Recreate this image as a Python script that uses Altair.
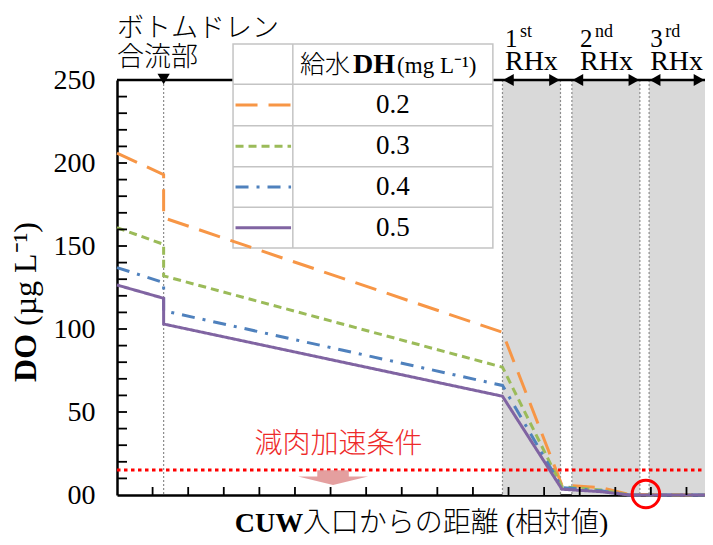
import altair as alt
import pandas as pd

# ---------------- data ----------------
series = ["0.2", "0.3", "0.4", "0.5"]
x_pts = [0, 1.31, 1.31, 10.83, 12.5, 13.6, 14.4, 16.52]
do_02 = [206, 193, 167, 98, 6, 4.5, 0.3, 0]
do_03 = [161, 151, 132, 77, 5, 3, 0, 0]
do_04 = [137, 128, 111, 66, 4.5, 2.5, 0, 0]
do_05 = [126.5, 118.5, 103, 59.5, 3.5, 2, 0, 0]
colors = ["#f79646", "#9bbb59", "#4f81bd", "#8064a2"]
dashes = [[22, 11], [8, 5], [13, 8, 3, 8], [1, 0]]

band_start = [10.83, 12.78, 14.95]
band_end = [12.46, 14.69, 16.52]
band_num = ["1", "2", "3"]
band_sup = ["st", "nd", "rd"]

drain_x = 1.31
threshold = 15
x_ticks = list(range(1, 17))
y_ticks = list(range(10, 250, 10))
y_labels = [0, 50, 100, 150, 200, 250]

XMAX = 16.52
SERIF = "Liberation Serif, Noto Sans CJK JP"
JP = "Noto Sans CJK JP"

# ---------------- scales / axes ----------------
XS = alt.Scale(domain=[0, XMAX], nice=False, zero=False)
YS = alt.Scale(domain=[0, 250], nice=False, zero=False)
x_axis = alt.Axis(labels=False, ticks=False, grid=False, domain=True,
                  domainColor="black", domainWidth=2.5, title=None)
y_axis = alt.Axis(values=y_labels, labelExpr="datum.value == 0 ? '00' : datum.label",
                  ticks=False, grid=False, domain=True, domainColor="black",
                  domainWidth=2.5, labelFont="Liberation Serif", labelFontSize=28,
                  labelColor="black", labelPadding=22, title=None)


def X(f):
    return alt.X(f, type="quantitative", scale=XS, axis=x_axis)


def Y(f):
    return alt.Y(f, type="quantitative", scale=YS, axis=y_axis)


# ---------------- tables ----------------
rows = []
for s, vals in zip(series, [do_02, do_03, do_04, do_05]):
    for i, (xv, yv) in enumerate(zip(x_pts, vals)):
        rows.append({"s": s, "x": xv, "y": yv, "i": i})
lines_df = pd.DataFrame(rows)

bands_df = pd.DataFrame({"x": band_start, "x2": band_end})
border_df = pd.DataFrame({"x": band_start + band_end[:2]})

color_enc = alt.Color("s:N", scale=alt.Scale(domain=series, range=colors), legend=None)
dash_enc = alt.StrokeDash("s:N", scale=alt.Scale(domain=series, range=dashes), legend=None)

layers = []

# grey bands
layers.append(alt.Chart(bands_df).mark_rect(color="#d9d9d9").encode(
    x=X("x"), x2="x2", y=alt.value(0), y2=alt.value(415)))
# band borders
layers.append(alt.Chart(border_df).mark_rule(color="#8c8c8c", strokeDash=[2, 2], strokeWidth=1.2).encode(
    x=X("x"), y=alt.value(0), y2=alt.value(415)))
# bottom drain line
layers.append(alt.Chart(pd.DataFrame({"x": [drain_x]})).mark_rule(
    color="#8c8c8c", strokeDash=[2, 2], strokeWidth=1.2).encode(
    x=X("x"), y=alt.value(0), y2=alt.value(415)))
# red threshold
layers.append(alt.Chart(pd.DataFrame({"y": [threshold], "x": [0], "x2": [XMAX]})).mark_rule(
    color="#ff0000", strokeDash=[3.5, 3.5], strokeWidth=3).encode(
    x=X("x"), x2="x2", y=Y("y")))
# top border line
layers.append(alt.Chart(pd.DataFrame({"y": [250], "x": [0], "x2": [XMAX]})).mark_rule(
    color="black", strokeWidth=2.5).encode(x=X("x"), x2="x2", y=Y("y")))

# legend table
tx0, tx1, tcol = 3.26, 10.56, 4.94
ty = [271.7, 247.4, 222.5, 197.8, 173.3, 148.8]
layers.append(alt.Chart(pd.DataFrame({"x": [tx0], "x2": [tx1], "y": [ty[-1]], "y2": [ty[0]]})).mark_rect(
    fill="white", stroke="#c4c4c4", strokeWidth=1.5).encode(x=X("x"), x2="x2", y=Y("y"), y2="y2"))
layers.append(alt.Chart(pd.DataFrame({"y": ty[1:-1], "x": [tx0] * 4, "x2": [tx1] * 4})).mark_rule(
    color="#c4c4c4", strokeWidth=1.5).encode(x=X("x"), x2="x2", y=Y("y")))
layers.append(alt.Chart(pd.DataFrame({"x": [tcol], "y": [ty[-1]], "y2": [ty[0]]})).mark_rule(
    color="#c4c4c4", strokeWidth=1.5).encode(x=X("x"), y=Y("y"), y2="y2"))
row_c = [(ty[k] + ty[k + 1]) / 2 for k in range(1, 5)]
leg_rows = []
for s, yc in zip(series, row_c):
    leg_rows.append({"s": s, "x": 3.33, "y": yc, "i": 0})
    leg_rows.append({"s": s, "x": 4.89, "y": yc, "i": 1})
layers.append(alt.Chart(pd.DataFrame(leg_rows)).mark_line(strokeWidth=3).encode(
    x=X("x"), y=Y("y"), color=color_enc, strokeDash=dash_enc, order="i:Q"))
layers.append(alt.Chart(pd.DataFrame({"x": [7.75] * 4, "y": row_c, "t": series})).mark_text(
    font="Liberation Serif", fontSize=27, color="black", align="center", baseline="middle").encode(
    x=X("x"), y=Y("y"), text="t:N"))
layers.append(alt.Chart(pd.DataFrame({"x": [5.14], "y": [254.2], "t": ["給水"]})).mark_text(
    font=JP, fontSize=25, fontWeight=300, color="black", align="left", baseline="alphabetic").encode(
    x=X("x"), y=Y("y"), text="t:N"))
layers.append(alt.Chart(pd.DataFrame({"x": [6.63], "y": [254.2], "t": ["DH"]})).mark_text(
    font="Liberation Serif", fontSize=28, fontWeight="bold", color="black", align="left",
    baseline="alphabetic").encode(x=X("x"), y=Y("y"), text="t:N"))
layers.append(alt.Chart(pd.DataFrame({"x": [7.87], "y": [254.2], "t": ["(mg L⁻¹)"]})).mark_text(
    font="Liberation Serif", fontSize=23, color="black", align="left", baseline="alphabetic").encode(
    x=X("x"), y=Y("y"), text="t:N"))

# data lines
layers.append(alt.Chart(lines_df).mark_line(strokeWidth=3).encode(
    x=X("x"), y=Y("y"), color=color_enc, strokeDash=dash_enc, order="i:Q"))

# inner ticks
layers.append(alt.Chart(pd.DataFrame({"y": y_ticks})).mark_rule(color="black", strokeWidth=1.8).encode(
    y=Y("y"), x=alt.value(0), x2=alt.value(10)))
layers.append(alt.Chart(pd.DataFrame({"x": x_ticks})).mark_rule(color="black", strokeWidth=1.8).encode(
    x=X("x"), y=alt.value(415), y2=alt.value(407)))

# RHx arrowheads
layers.append(alt.Chart(pd.DataFrame({"x": band_start, "y": [250] * 3})).mark_point(
    shape="triangle-left", filled=True, color="black", size=150, opacity=1, xOffset=6).encode(
    x=X("x"), y=Y("y")))
layers.append(alt.Chart(pd.DataFrame({"x": band_end, "y": [250] * 3})).mark_point(
    shape="triangle-right", filled=True, color="black", size=150, opacity=1, xOffset=-6).encode(
    x=X("x"), y=Y("y")))

# RHx labels
rhx_x = [10.90, 13.01, 14.98]
layers.append(alt.Chart(pd.DataFrame({"x": rhx_x, "y": [256.0] * 3, "t": ["RHx"] * 3})).mark_text(
    font="Liberation Serif", fontSize=28, color="black", align="left", baseline="alphabetic").encode(
    x=X("x"), y=Y("y"), text="t:N"))
layers.append(alt.Chart(pd.DataFrame({"x": rhx_x, "y": [270.0] * 3, "t": band_num})).mark_text(
    font="Liberation Serif", fontSize=25, color="black", align="left", baseline="alphabetic").encode(
    x=X("x"), y=Y("y"), text="t:N"))
layers.append(alt.Chart(pd.DataFrame({"x": rhx_x, "y": [276.0] * 3, "t": band_sup})).mark_text(
    font="Liberation Serif", fontSize=18, color="black", align="left", baseline="alphabetic", dx=15).encode(
    x=X("x"), y=Y("y"), text="t:N"))

# bottom drain annotation
layers.append(alt.Chart(pd.DataFrame({"x": [drain_x], "y": [250]})).mark_point(
    shape="triangle-down", filled=True, color="black", size=150, opacity=1, yOffset=-1).encode(
    x=X("x"), y=Y("y")))
layers.append(alt.Chart(pd.DataFrame({"x": [0, 0], "y": [281.0, 263.5], "t": ["ボトムドレン", "合流部"]})).mark_text(
    font=JP, fontSize=27, fontWeight=300, color="black", align="left", baseline="middle").encode(
    x=X("x"), y=Y("y"), text="t:N"))

# threshold annotation
layers.append(alt.Chart(pd.DataFrame({"x": [6.22], "y": [30.1], "t": ["減肉加速条件"]})).mark_text(
    font=JP, fontSize=28, fontWeight=300, color="#ee2a2a", align="center", baseline="middle").encode(
    x=X("x"), y=Y("y"), text="t:N"))
arrow_path = "M-0.45,-0.21 L0.45,-0.21 L0.45,-0.03 L1,-0.03 L0,0.21 L-1,-0.03 L-0.45,-0.03 Z"
layers.append(alt.Chart(pd.DataFrame({"x": [6.07], "y": [10.5]})).mark_point(
    shape=arrow_path, filled=True, color="#e39a9a", size=4900, opacity=0.95).encode(
    x=X("x"), y=Y("y")))
layers.append(alt.Chart(pd.DataFrame({"x": [14.86], "y": [0.6]})).mark_point(
    shape="circle", filled=False, color="#ff0000", strokeWidth=3, size=760, opacity=1).encode(
    x=X("x"), y=Y("y")))

# axis titles
layers.append(alt.Chart(pd.DataFrame({"x": [3.31], "y": [-22.3], "t": ["CUW"]})).mark_text(
    font="Liberation Serif", fontSize=28, fontWeight="bold", color="black", align="left",
    baseline="alphabetic").encode(x=X("x"), y=Y("y"), text="t:N"))
layers.append(alt.Chart(pd.DataFrame({"x": [5.22], "y": [-22.3], "t": ["入口からの距離 (相対値)"]})).mark_text(
    font=SERIF, fontSize=28, fontWeight=300, color="black", align="left",
    baseline="alphabetic").encode(x=X("x"), y=Y("y"), text="t:N"))
layers.append(alt.Chart(pd.DataFrame({"x": [-2.56], "y": [68.1], "t": ["DO"]})).mark_text(
    font="Liberation Serif", fontSize=32, fontWeight="bold", color="black", align="left",
    baseline="middle", angle=270).encode(x=X("x"), y=Y("y"), text="t:N"))
layers.append(alt.Chart(pd.DataFrame({"x": [-2.56], "y": [101.8], "t": ["(µg L⁻¹)"]})).mark_text(
    font="Liberation Serif", fontSize=32, color="black", align="left",
    baseline="middle", angle=270).encode(x=X("x"), y=Y("y"), text="t:N"))

chart = alt.layer(*layers).properties(
    width=588, height=415,
    autosize=alt.AutoSizeParams(type="none"),
    padding={"left": 109, "top": 72, "right": 0, "bottom": 42},
    background="white",
).configure_view(stroke=None)

chart.save("out.html", embed_options={"renderer": "svg", "actions": False})
